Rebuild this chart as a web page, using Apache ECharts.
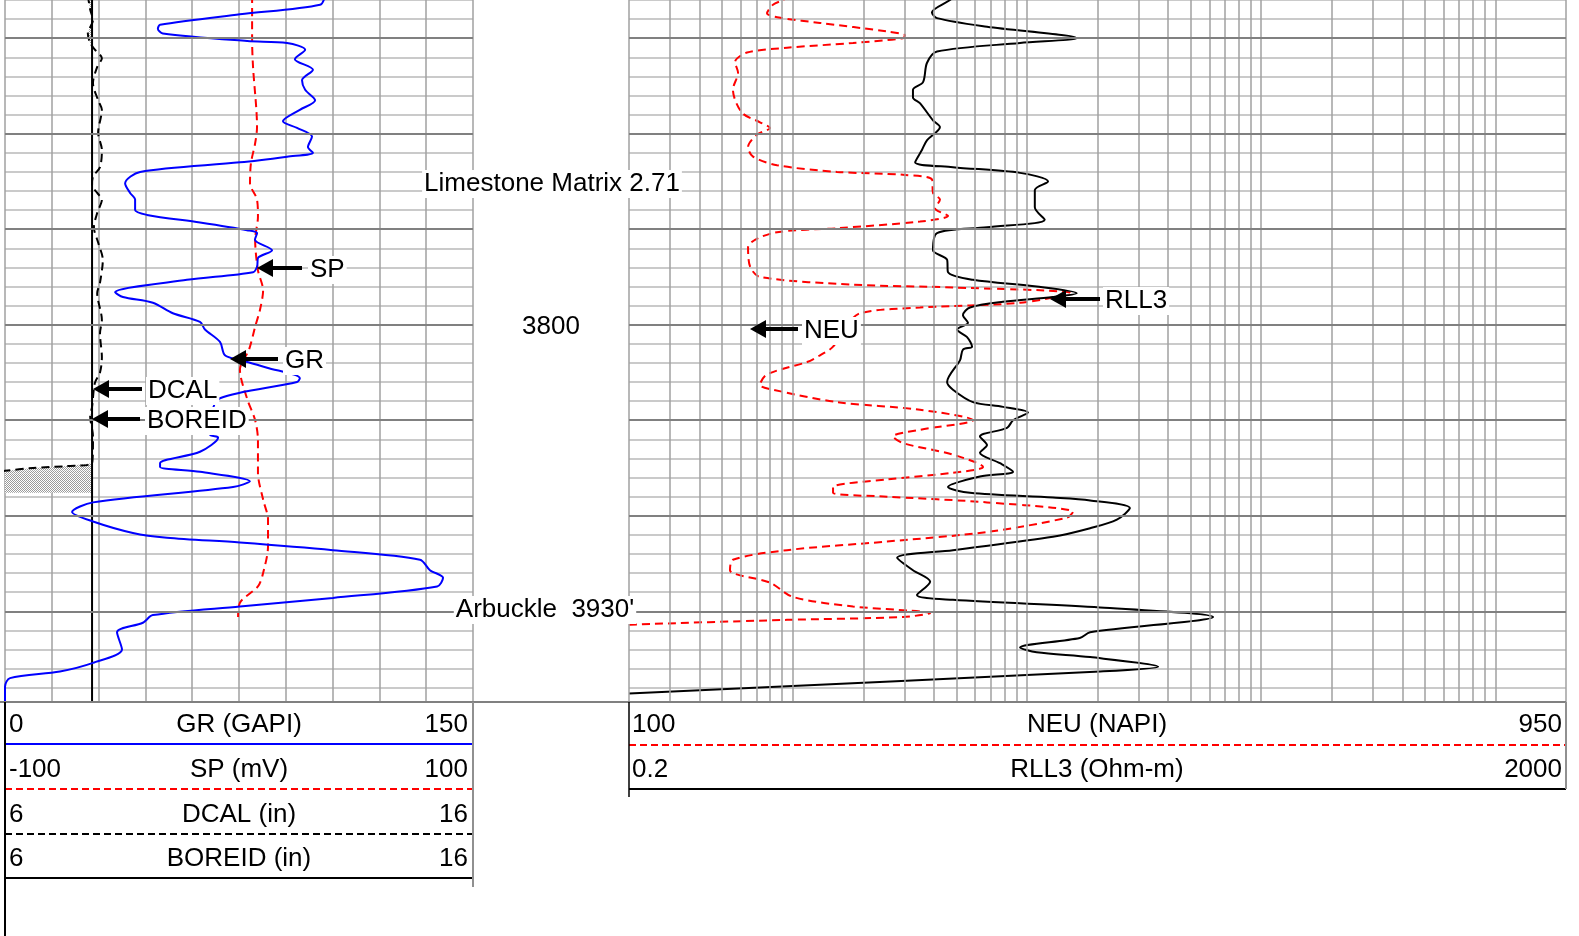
<!DOCTYPE html>
<html>
<head>
<meta charset="utf-8">
<script src="https://cdn.jsdelivr.net/npm/echarts@6/dist/echarts.min.js"></script>
<style>
html,body{margin:0;padding:0;background:#fff;}
#log{width:1579px;height:936px;}
</style>
</head>
<body>
<div id="log"></div>
<script>
// 深度 (ft)
var GR_DEPTH = [3765.5, 3766.5, 3767.5, 3768.6, 3769.0, 3769.5, 3770.3, 3770.5, 3771.2, 3772.2,
    3773.3, 3774.4, 3775.4, 3776.5, 3777.5, 3778.7, 3779.4, 3780.3, 3781.4, 3782.0,
    3782.4, 3783.0, 3784.0, 3785.2, 3786.2, 3786.9, 3788.0, 3788.5, 3789.3, 3790.1,
    3790.4, 3791.1, 3792.2, 3793.0, 3793.9, 3794.5, 3795.3, 3796.6, 3797.1, 3797.7,
    3798.8, 3799.7, 3800.5, 3801.8, 3803.2, 3803.7, 3804.5, 3805.6, 3806.0, 3807.7,
    3809.6, 3811.5, 3811.8, 3813.3, 3814.5, 3814.9, 3815.4, 3816.4, 3817.0, 3818.6,
    3819.6, 3820.6, 3821.8, 3822.3, 3822.8, 3823.6, 3824.6, 3825.7, 3826.5, 3827.4,
    3828.6, 3829.5, 3830.4, 3831.2, 3832.2, 3834.0, 3835.4, 3836.3, 3837.0, 3837.9, 3840.0];
var GR_VAL = [102.6, 101.0, 75.3, 49.7, 49.0, 50.6, 77.6, 90.4, 96.2, 92.9,
    98.7, 95.2, 96.2, 99.4, 94.5, 89.1, 93.6, 98.4, 97.1, 98.7,
    90.4, 75.3, 43.3, 38.5, 40.1, 41.7, 41.7, 45.5, 62.5, 77.6,
    80.8, 80.1, 85.6, 81.1, 80.8, 79.5, 58.3, 35.3, 37.8, 47.4,
    53.8, 62.5, 64.1, 68.9, 70.5, 75.3, 84.0, 94.5, 93.6, 68.9,
    66.0, 65.7, 68.3, 62.5, 49.7, 49.7, 62.5, 78.5, 73.1, 28.2,
    21.5, 28.2, 41.0, 51.9, 75.3, 105.1, 133.0, 136.2, 140.4, 138.5,
    105.1, 75.3, 47.4, 44.2, 35.9, 37.5, 28.2, 17.6, 1.6, 0, 0];

var SP_DEPTH = [3765.5, 3770.2, 3773.0, 3779.3, 3781.0, 3783.1, 3785.2, 3786.9, 3788.7, 3791.1,
    3794.3, 3796.4, 3798.4, 3800.2, 3802.6, 3804.7, 3807.7, 3810.0, 3812.1, 3815.5,
    3818.3, 3820.4, 3823.2, 3826.0, 3827.4, 3829.1, 3830.6];
var SP_VAL = [5.6, 5.6, 6.0, 7.7, 6.9, 5.1, 4.7, 7.7, 8.1, 6.9,
    8.1, 10.3, 9.0, 6.9, 4.3, 0.4, 3.4, 6.9, 8.1, 8.1,
    10.3, 12.4, 12.4, 10.3, 8.1, 0.4, -0.4];

var DCAL_DEPTH = [3765.5, 3767.0, 3768.1, 3769.5, 3770.5, 3771.2, 3772.1, 3773.0, 3774.7, 3776.5,
    3777.5, 3779.9, 3781.7, 3783.5, 3784.5, 3785.4, 3786.2, 3786.9, 3788.3, 3789.8,
    3791.4, 3793.2, 3795.6, 3796.7, 3799.5, 3800.9, 3803.4, 3805.0, 3806.1, 3808.6,
    3809.6, 3811.7, 3814.5, 3814.8, 3815.0, 3815.3, 3815.6, 3817.6];
var DCAL_VAL = [7.77, 7.82, 7.88, 7.77, 7.82, 7.92, 8.07, 7.97, 7.88, 7.99,
    8.07, 7.99, 8.07, 8.03, 7.88, 7.86, 7.97, 8.07, 7.97, 7.90,
    7.99, 8.09, 8.03, 7.97, 8.07, 8.03, 8.07, 8.03, 7.92, 7.86,
    7.82, 7.88, 7.86, 7.32, 6.60, 6.00, 5.50, 5.50];

var BOREID_DEPTH = [3765, 3840];
var BOREID_VAL = [7.86, 7.86];

var NEU_DEPTH = [3765.5, 3766.0, 3766.5, 3767.4, 3767.9, 3768.4, 3769.3, 3769.7, 3770.0, 3770.5,
    3771.0, 3771.5, 3772.5, 3773.6, 3775.4, 3777.8, 3778.8, 3779.4, 3780.1, 3781.4,
    3782.4, 3783.3, 3784.0, 3784.3, 3784.8, 3786.2, 3786.9, 3787.8, 3788.6, 3789.2,
    3789.9, 3790.4, 3791.9, 3793.9, 3795.0, 3795.8, 3796.1, 3796.7, 3797.7, 3798.2,
    3798.8, 3800.3, 3802.3, 3803.2, 3803.9, 3805.2, 3806.3, 3806.8, 3808.1, 3808.9,
    3810.0, 3811.0, 3811.7, 3812.4, 3813.6, 3814.9, 3815.5, 3816.2, 3817.0, 3817.6,
    3818.0, 3818.6, 3819.6, 3820.2, 3821.7, 3822.7, 3823.6, 3824.6, 3825.7, 3827.0,
    3828.5, 3829.5, 3830.2, 3830.6, 3830.9, 3831.4, 3831.5];
var NEU_VAL = [246.1, 239.7, 230.6, 225.2, 239.7, 273.3, 334.1, 350.4, 348.6, 303.2,
    243.3, 207.1, 196.2, 198.9, 194.3, 202.5, 218.8, 227.9, 216.1, 208.0,
    212.5, 234.3, 288.7, 348.6, 374.9, 375.8, 382.1, 377.6, 389.4, 364.0,
    288.7, 230.6, 208.0, 209.8, 218.8, 303.2, 393.9, 500.1, 454.7, 364.0,
    309.6, 296.0, 285.1, 273.3, 261.5, 225.2, 218.8, 230.6, 288.7, 364.0,
    412.1, 364.0, 339.5, 348.6, 393.9, 421.2, 393.9, 334.1, 285.1, 285.1,
    334.1, 424.8, 502.8, 497.4, 424.8, 334.1, 243.3, 194.3, 191.6, 227.9,
    248.8, 303.2, 373.1, 348.6, 243.3, 100.9, 91.8];

var RLL3_DEPTH = [3765.5, 3766.0, 3767.3, 3767.9, 3768.8, 3770.0, 3770.5, 3771.4, 3772.6, 3774.6,
    3775.4, 3776.2, 3776.8, 3778.6, 3779.3, 3780.7, 3781.7, 3783.0, 3783.5, 3784.1,
    3785.0, 3785.9, 3787.7, 3789.0, 3789.8, 3790.4, 3792.2, 3793.2, 3794.5, 3795.3,
    3796.0, 3796.7, 3797.1, 3797.6, 3798.2, 3799.0, 3799.8, 3800.5, 3801.3, 3802.3,
    3802.6, 3803.7, 3806.0, 3806.8, 3808.1, 3808.6, 3809.2, 3810.0, 3810.8, 3811.7,
    3812.6, 3813.4, 3814.5, 3815.4, 3815.9, 3817.0, 3817.6, 3818.1, 3818.4, 3819.2,
    3820.4, 3821.3, 3822.2, 3823.6, 3824.4, 3825.7, 3826.9, 3828.3, 3828.8, 3829.6,
    3830.6, 3832.2, 3832.8, 3833.8, 3834.3, 3834.8, 3835.8, 3836.3, 3838.6];
var RLL3_VAL = [4.93, 4.69, 3.93, 4.13, 6.75, 16.3, 9.34, 4.13, 3.74, 3.60,
    3.26, 3.26, 3.49, 3.97, 4.25, 3.74, 3.56, 3.33, 4.83, 9.34,
    12.3, 10.8, 10.8, 11.9, 6.75, 4.13, 3.97, 4.56, 4.60, 5.88,
    11.0, 16.3, 12.9, 7.90, 5.71, 5.33, 5.60, 5.03, 5.55, 5.83,
    5.33, 5.18, 4.56, 4.83, 5.88, 7.90, 10.1, 8.72, 8.22, 6.30,
    6.75, 6.30, 7.67, 8.72, 6.30, 4.60, 5.71, 12.9, 18.6, 27.5,
    24.2, 18.6, 12.9, 4.83, 2.79, 3.26, 3.86, 3.39, 4.83, 20.5,
    62.3, 18.6, 16.8, 9.34, 11.0, 18.6, 36.3, 20.5, 0.2];

// 表头刻度
var HEAD_LEFT = [['0', 'GR (GAPI)', '150'], ['-100', 'SP (mV)', '100'], ['6', 'DCAL (in)', '16'], ['6', 'BOREID (in)', '16']];
var HEAD_RIGHT = [['100', 'NEU (NAPI)', '950'], ['0.2', 'RLL3 (Ohm-m)', '2000']];
var DEPTH_LABEL = '3800';
var TOPS = ['Limestone Matrix 2.71', 'Arbuckle  3930\''];

(function(){
    var myChart = echarts.init(document.getElementById('log'));
    var FONT = '26px "Liberation Sans", Arial, sans-serif';

    function pairs(vals, depths) {
        var out = [];
        for (var i = 0; i < Math.min(vals.length, depths.length); i++) out.push([vals[i], depths[i]]);
        return out;
    }

    // 点状填充
    var dots = document.createElement('canvas');
    dots.width = 2; dots.height = 2;
    var g = dots.getContext('2d');
    g.fillStyle = '#ffffff'; g.fillRect(0, 0, 2, 2);
    g.fillStyle = '#9a9a9a'; g.fillRect(0, 0, 1, 1); g.fillRect(1, 1, 1, 1);

    var segs = [];
    for (var i = 0; i < DCAL_VAL.length - 1; i++) {
        segs.push([DCAL_VAL[i], DCAL_DEPTH[i], DCAL_VAL[i + 1], DCAL_DEPTH[i + 1]]);
    }

    // 对数网格
    var logLines = [];
    for (var e = -1; e <= 3; e++) {
        for (var k = 1; k <= 9; k++) {
            var v = k * Math.pow(10, e);
            if (v >= 0.2 - 1e-9 && v <= 2000 + 1e-9) logLines.push({xAxis: v});
        }
    }
    var majors = [];
    for (var d = 3770; d <= 3830; d += 10) majors.push({yAxis: d});

    function depthAxis(gi) {
        return {
            type: 'value', gridIndex: gi, inverse: true, min: 3766, max: 3839.5, interval: 2,
            axisLabel: {show: false}, axisLine: {show: false}, axisTick: {show: false},
            splitLine: {show: true, lineStyle: {color: '#b8b8b8', width: 1.5}}
        };
    }
    function hidden(gi, min, max, type) {
        return {
            type: type || 'value', gridIndex: gi, min: min, max: max, show: false,
            splitLine: {show: false}
        };
    }
    function txt(text, x, y, align, bg) {
        return {
            type: 'text', x: x, y: y + 2, z: 60,
            style: {
                text: text, font: FONT, fill: '#000', align: align || 'left', verticalAlign: 'middle',
                backgroundColor: bg ? '#fff' : null, padding: bg ? [1, 2, 1, 2] : 0
            }
        };
    }
    function line(x1, y1, x2, y2, color, width, dash) {
        return {
            type: 'line', z: 55, shape: {x1: x1, y1: y1, x2: x2, y2: y2},
            style: {stroke: color, lineWidth: width, lineDash: dash || null}
        };
    }
    function arrow(tip, tail, y) {
        return [
            line(tip + 10, y, tail, y, '#000', 4),
            {type: 'polygon', z: 56, shape: {points: [[tip, y], [tip + 16, y - 9], [tip + 16, y + 9]]}, style: {fill: '#000'}}
        ];
    }

    var graphics = [];
    // 曲线标注
    graphics = graphics.concat(arrow(257, 302, 268), [txt('SP', 308, 268, 'left', true)]);
    graphics = graphics.concat(arrow(230, 278, 359), [txt('GR', 283, 359, 'left', true)]);
    graphics = graphics.concat(arrow(93, 142, 389), [txt('DCAL', 146, 389, 'left', true)]);
    graphics = graphics.concat(arrow(92, 140, 419), [txt('BOREID', 145, 419, 'left', true)]);
    graphics = graphics.concat(arrow(750, 798, 329), [txt('NEU', 802, 329, 'left', true)]);
    graphics = graphics.concat(arrow(1050, 1100, 299), [txt('RLL3', 1103, 299, 'left', true)]);
    graphics.push(txt(TOPS[0], 552, 182, 'center', true));
    graphics.push(txt(DEPTH_LABEL, 551, 325, 'center', false));
    graphics.push(txt(TOPS[1], 545, 608, 'center', true));

    // 表头
    graphics.push(line(0, 702, 1566, 702, '#808080', 2));
    var rowY = [723, 768, 813, 857];
    HEAD_LEFT.forEach(function (r, i) {
        graphics.push(txt(r[0], 9, rowY[i]), txt(r[1], 239, rowY[i], 'center'), txt(r[2], 468, rowY[i], 'right'));
    });
    graphics.push(line(5, 744, 473, 744, '#0000ff', 2));
    graphics.push(line(5, 789, 473, 789, '#ff0000', 2, [7, 4]));
    graphics.push(line(5, 834, 473, 834, '#000', 2, [7, 4]));
    graphics.push(line(5, 878, 472, 878, '#000', 2));
    graphics.push(line(5, 702, 5, 936, '#000', 2));
    graphics.push(line(473, 702, 473, 887, '#909090', 2));
    HEAD_RIGHT.forEach(function (r, i) {
        graphics.push(txt(r[0], 632, rowY[i]), txt(r[1], 1097, rowY[i], 'center'), txt(r[2], 1562, rowY[i], 'right'));
    });
    graphics.push(line(629, 745, 1566, 745, '#ff0000', 2, [7, 4]));
    graphics.push(line(629, 789, 1566, 789, '#000', 2));
    graphics.push(line(629, 702, 629, 797, '#000', 1.5));
    graphics.push(line(1566, 702, 1566, 789, '#909090', 2));

    var gridMark = function (data, color, width) {
        return {
            silent: true, symbol: 'none', label: {show: false},
            lineStyle: {color: color, width: width, type: 'solid'}, data: data
        };
    };

    option = {
        animation: false,
        backgroundColor: '#fff',
        grid: [
            {left: 5, top: 0, width: 468, height: 702},
            {left: 629, top: 0, width: 937, height: 702}
        ],
        xAxis: [
            {
                type: 'value', gridIndex: 0, min: 0, max: 150, interval: 15,
                axisLabel: {show: false}, axisLine: {show: false}, axisTick: {show: false},
                splitLine: {show: true, lineStyle: {color: '#a0a0a0', width: 1.5}}
            },
            hidden(0, -100, 100),
            hidden(0, 6, 16),
            hidden(1, 100, 950),
            hidden(1, 0.2, 2000, 'log')
        ],
        yAxis: [depthAxis(0), depthAxis(1)],
        graphic: graphics,
        series: [
            {
                type: 'line', xAxisIndex: 0, yAxisIndex: 0, data: [], z: 1,
                markLine: gridMark(majors, '#808080', 2)
            },
            {
                type: 'line', xAxisIndex: 4, yAxisIndex: 1, data: [], z: 1,
                markLine: gridMark(logLines, '#a0a0a0', 1.5)
            },
            {
                type: 'line', xAxisIndex: 3, yAxisIndex: 1, data: [], z: 1,
                markLine: gridMark(majors, '#808080', 2)
            },
            {
                name: 'stipple', type: 'custom', xAxisIndex: 2, yAxisIndex: 0, z: 2,
                encode: {x: [0, 2], y: [1, 3]},
                renderItem: function (params, api) {
                    var bit = BOREID_VAL[0];
                    var a = Math.max(6, Math.min(api.value(0), bit));
                    var b = Math.max(6, Math.min(api.value(2), bit));
                    if (a >= bit && b >= bit) return;
                    return {
                        type: 'polygon',
                        shape: {points: [api.coord([a, api.value(1)]), api.coord([b, api.value(3)]),
                            api.coord([bit, api.value(3)]), api.coord([bit, api.value(1)])]},
                        style: {fill: {image: dots, repeat: 'repeat'}}
                    };
                },
                data: segs
            },
            {
                name: 'BOREID', type: 'line', xAxisIndex: 2, yAxisIndex: 0, z: 3,
                symbol: 'none', lineStyle: {color: '#000', width: 2},
                data: pairs(BOREID_VAL, BOREID_DEPTH)
            },
            {
                name: 'DCAL', type: 'line', xAxisIndex: 2, yAxisIndex: 0, z: 3,
                symbol: 'none', smooth: 0.3, lineStyle: {color: '#000', width: 2, type: [8, 5]},
                data: pairs(DCAL_VAL, DCAL_DEPTH)
            },
            {
                name: 'SP', type: 'line', xAxisIndex: 1, yAxisIndex: 0, z: 3,
                symbol: 'none', smooth: 0.3, lineStyle: {color: '#ff0000', width: 2, type: [8, 5]},
                data: pairs(SP_VAL, SP_DEPTH)
            },
            {
                name: 'GR', type: 'line', xAxisIndex: 0, yAxisIndex: 0, z: 4,
                symbol: 'none', smooth: 0.3, lineStyle: {color: '#0000ff', width: 2},
                data: pairs(GR_VAL, GR_DEPTH)
            },
            {
                name: 'NEU', type: 'line', xAxisIndex: 3, yAxisIndex: 1, z: 3,
                symbol: 'none', smooth: 0.3, lineStyle: {color: '#ff0000', width: 2, type: [8, 5]},
                data: pairs(NEU_VAL, NEU_DEPTH)
            },
            {
                name: 'RLL3', type: 'line', xAxisIndex: 4, yAxisIndex: 1, z: 4,
                symbol: 'none', smooth: 0.3, lineStyle: {color: '#000', width: 2},
                data: pairs(RLL3_VAL, RLL3_DEPTH)
            }
        ]
    };
    myChart.setOption(option);
})();
</script>
</body>
</html>
